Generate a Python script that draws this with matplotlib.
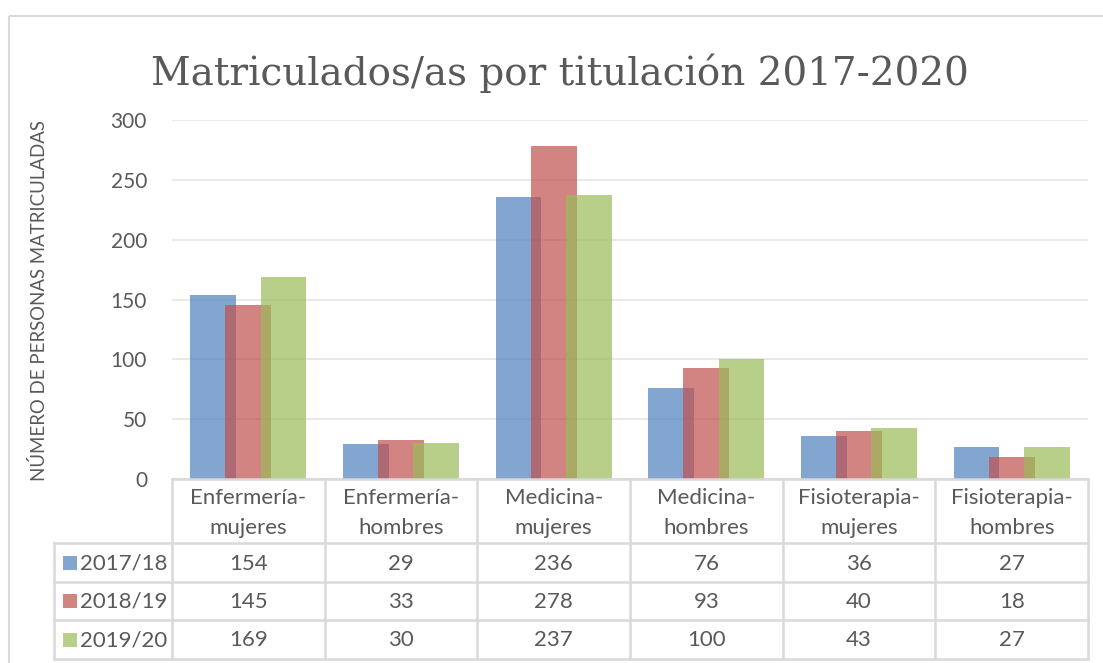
import numpy as np
import matplotlib
matplotlib.use("Agg")
import matplotlib.pyplot as plt
from matplotlib.patches import Rectangle
from matplotlib.lines import Line2D

# ---- data ----
categories = ["Enfermería-mujeres", "Enfermería-hombres", "Medicina-mujeres",
              "Medicina-hombres", "Fisioterapia-mujeres", "Fisioterapia-hombres"]
series_names = ["2017/18", "2018/19", "2019/20"]
v_2017 = [154, 29, 236, 76, 36, 27]
v_2018 = [145, 33, 278, 93, 40, 18]
v_2019 = [169, 30, 237, 100, 43, 27]
series_values = [v_2017, v_2018, v_2019]
y_ticks = [0, 50, 100, 150, 200, 250, 300]

title = "Matriculados/as por titulación 2017-2020"
y_label = "NÚMERO DE PERSONAS MATRICULADAS"

# ---- style ----
colors = ["#4F81BD", "#C0504D", "#9BBB59"]
alpha = 0.7
text_col = "#595959"
border_col = "#D9D9D9"
grid_col = "#E9E9E9"
body_font = "Lato"
title_font = "DejaVu Serif"

W, H = 1103, 663
fig = plt.figure(figsize=(W / 100, H / 100), dpi=100)
fig.patch.set_facecolor("white")

# plot area in pixels
px_left, px_right = 172, 1088
px_top, px_bottom = 120, 479
ax = fig.add_axes([px_left / W, 1 - px_bottom / H,
                   (px_right - px_left) / W, (px_bottom - px_top) / H])

n = len(categories)
x = np.arange(n) + 0.5
bar_w = 0.30
step = 0.23
for k, (vals, c) in enumerate(zip(series_values, colors)):
    ax.bar(x + (k - 1) * step, vals, width=bar_w, color=c, alpha=alpha,
           linewidth=0, zorder=3 + k)

ax.set_xlim(0, n)
ax.set_ylim(0, 300)
ax.set_yticks(y_ticks)
ax.set_xticks([])
ax.yaxis.grid(True, color=grid_col, linewidth=1.5, zorder=0)
for s in ax.spines.values():
    s.set_visible(False)
ax.tick_params(axis="y", length=0, pad=18, labelsize=15, labelcolor=text_col)
for lbl in ax.get_yticklabels():
    lbl.set_fontfamily(body_font)
ax.set_facecolor("none")

# overlay in pixel coordinates for frame, title and data table
ov = fig.add_axes([0, 0, 1, 1], zorder=-1)
ov.set_xlim(0, W)
ov.set_ylim(H, 0)
ov.axis("off")

# outer chart frame
ov.add_patch(Rectangle((8.5, 15.5), W + 20, H + 20, fill=False,
                       edgecolor=border_col, linewidth=1.5))

ov.text(560, 73, title, ha="center", va="center",
        fontsize=28, color=text_col, family=title_font)

ov.text(39, (px_top + px_bottom) / 2 + 1, y_label, rotation=90, ha="center",
        va="center", fontsize=13.4, color=text_col, family=body_font)

# data table
colw = (px_right - px_left) / n
col_edges = [px_left + i * colw for i in range(n + 1)]
legend_left = 54
row_edges = [px_bottom, 543, 582, 620, 659]
tbl = fig.add_axes([0, 0, 1, 1], zorder=5)
tbl.set_xlim(0, W)
tbl.set_ylim(H, 0)
tbl.axis("off")
lw = 1.8
# horizontal lines
tbl.add_line(Line2D([px_left, px_right], [row_edges[0]] * 2, color=border_col, lw=lw))
for yy in row_edges[1:]:
    tbl.add_line(Line2D([legend_left, px_right], [yy] * 2, color=border_col, lw=lw))
# vertical lines
for xx in col_edges:
    tbl.add_line(Line2D([xx, xx], [row_edges[0], row_edges[-1]], color=border_col, lw=lw))
tbl.add_line(Line2D([legend_left, legend_left], [row_edges[1], row_edges[-1]],
                    color=border_col, lw=lw))

# header labels
for i, cat in enumerate(categories):
    cx = (col_edges[i] + col_edges[i + 1]) / 2
    tbl.text(cx, (row_edges[0] + row_edges[1]) / 2 + 2, cat.replace("-", "-\n"),
             ha="center", va="center", fontsize=16, color=text_col,
             family=body_font, linespacing=1.6)

# series rows
for r, (name, vals, c) in enumerate(zip(series_names, series_values, colors)):
    cy = (row_edges[r + 1] + row_edges[r + 2]) / 2
    tbl.add_patch(Rectangle((63, cy - 7), 14, 14, facecolor=c, alpha=alpha,
                            linewidth=0))
    tbl.text(80, cy + 1, name, ha="left", va="center", fontsize=16,
             color=text_col, family=body_font)
    for i, v in enumerate(vals):
        cx = (col_edges[i] + col_edges[i + 1]) / 2
        tbl.text(cx, cy + 1, str(v), ha="center", va="center", fontsize=16,
                 color=text_col, family=body_font)

fig.savefig("out.png", dpi=100, facecolor="white")
